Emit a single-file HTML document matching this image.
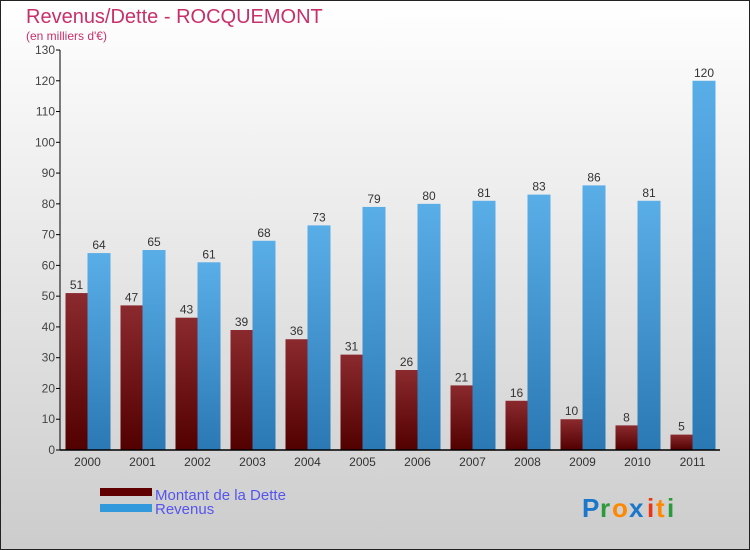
<!DOCTYPE html>
<html><head><meta charset="utf-8"><style>
html,body{margin:0;padding:0;width:750px;height:550px;overflow:hidden}
svg{display:block;font-family:"Liberation Sans",sans-serif}
</style></head><body>
<svg id="chart" width="750" height="550">
<defs>
<linearGradient id="bg" x1="0" y1="0" x2="0" y2="1"><stop offset="0" stop-color="#ffffff"/><stop offset="1" stop-color="#cccccc"/></linearGradient>
<linearGradient id="gd" x1="0" y1="0" x2="0" y2="1"><stop offset="0" stop-color="#8b2a2e"/><stop offset="1" stop-color="#520000"/></linearGradient>
<linearGradient id="gr" x1="0" y1="0" x2="0" y2="1"><stop offset="0" stop-color="#5aaee8"/><stop offset="1" stop-color="#2a78b4"/></linearGradient>
</defs>
<rect x="0.5" y="0.5" width="749" height="549" fill="url(#bg)" stroke="#222"/>
<text x="26" y="23" font-size="20" fill="#c8306a">Revenus/Dette - ROCQUEMONT</text>
<text x="26" y="40" font-size="12" fill="#c8306a">(en milliers d'€)</text>
<g id="grid"></g><g id="bars"></g><g id="axes"></g>
<rect x="100" y="488" width="52" height="8" fill="#600000"/>
<text x="155" y="500" font-size="15" fill="#5555ee">Montant de la Dette</text>
<rect x="100" y="504" width="52" height="8" fill="#3399dd"/>
<text x="155" y="514" font-size="15" fill="#5555ee">Revenus</text>
<g font-size="26" font-weight="bold">
<text x="582" y="517" fill="#1a77c9">P</text><text x="600" y="517" fill="#2a9a3a">r</text><text x="612" y="517" fill="#ff8800">o</text><text x="629" y="517" fill="#1a77c9">x</text><text x="647" y="517" fill="#ee3311">i</text><text x="656" y="517" fill="#ff8800">t</text><text x="667" y="517" fill="#2a9a3a">i</text>
</g>
</svg>
<script>
const years=["2000","2001","2002","2003","2004","2005","2006","2007","2008","2009","2010","2011"];
const dette=[51,47,43,39,36,31,26,21,16,10,8,5];
const revenus=[64,65,61,68,73,79,80,81,83,86,81,120];
const yTicks=[0,10,20,30,40,50,60,70,80,90,100,110,120,130];
const NS="http://www.w3.org/2000/svg";
const x0=60,step=55,y0=450,yMax=130,plotH=400;
const y=v=>y0-v/yMax*plotH;
const gx=i=>x0+i*step;
function mk(tag,attrs,parent){const e=document.createElementNS(NS,tag);for(const k in attrs)e.setAttribute(k,attrs[k]);parent.appendChild(e);return e;}
const axes=document.getElementById('axes'),bars=document.getElementById('bars');
yTicks.forEach(t=>{
 const l=mk('line',{x1:x0-4,x2:x0,y1:y(t),y2:y(t),stroke:'#000'},axes);
 
 
 const tx=mk('text',{x:x0-5,y:y(t)+4,'font-size':12,fill:'#444','text-anchor':'end'},axes);
 tx.textContent=t;
 
 
});
const ya=mk('line',{x1:x0,x2:x0,y1:y(yMax),y2:y0,stroke:'#000'},axes);


const xa=mk('line',{x1:x0,x2:x0+years.length*step,y1:y0,y2:y0,stroke:'#000','stroke-width':1.5},axes);


years.forEach((yr,i)=>{
 const c=gx(i)+27.5;
 const b1=mk('rect',{x:c-22,y:y(dette[i]),width:22,height:y0-y(dette[i]),fill:'url(#gd)'},bars);
 
 
 const b2=mk('rect',{x:c,y:y(revenus[i]),width:23,height:y0-y(revenus[i]),fill:'url(#gr)'},bars);
 
 
 const l1=mk('text',{x:c-11,y:y(dette[i])-4,'font-size':12,fill:'#333','text-anchor':'middle'},bars);
 l1.textContent=dette[i];
 
 
 const l2=mk('text',{x:c+11.5,y:y(revenus[i])-4,'font-size':12,fill:'#333','text-anchor':'middle'},bars);
 l2.textContent=revenus[i];
 
 
 const xl=mk('text',{x:c,y:466,'font-size':12,fill:'#333','text-anchor':'middle'},axes);
 xl.textContent=yr;
 
 
});
</script>
</body></html>
